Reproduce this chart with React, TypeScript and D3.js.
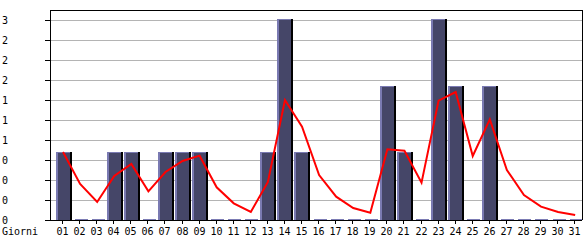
import React from "react";
import * as d3 from "d3";

const days = ["01","02","03","04","05","06","07","08","09","10","11","12","13","14","15","16","17","18","19","20","21","22","23","24","25","26","27","28","29","30","31"];
const counts = [1,0,0,1,1,0,1,1,1,0,0,0,1,3,1,0,0,0,0,2,1,0,3,2,0,2,0,0,0,0,0];
const trend = [1.02,0.54,0.27,0.66,0.84,0.43,0.72,0.885,0.965,0.49,0.25,0.12,0.57,1.8,1.4,0.675,0.35,0.18,0.11,1.06,1.04,0.56,1.79,1.92,0.96,1.51,0.75,0.375,0.2,0.12,0.075];
const tickValues = [0,0.3,0.6,0.9,1.2,1.5,1.8,2.1,2.4,2.7,3.0];
const tickLabels = ["0","0","0","0","1","1","1","2","2","2","3"];
const xTitle = "Giorni";

export default function App() {
  const W = 585, H = 240;
  const left = 50, right = 582, top = 10, bottom = 220;
  const x = d3.scaleBand<string>().domain(days).range([54.5, 583.7]).paddingInner(0);
  const y = d3.scaleLinear().domain([0, 3]).range([220, 20]);
  const line = d3.line<number>()
    .x((_, i) => (x(days[i]) as number) + x.bandwidth() / 2)
    .y((v) => y(v));
  const font = "'DejaVu Sans Mono', monospace";
  return (
    <svg width={W} height={H} style={{ position: "absolute", left: 0, top: 0, background: "#fff" }}>
      {tickValues.slice(1).map((t, i) => (
        <line key={"g" + i} x1={left} x2={right} y1={y(t)} y2={y(t)} stroke="#b4b4b4" strokeWidth={1} shapeRendering="crispEdges" />
      ))}
      {tickValues.map((t, i) => (
        <g key={"yt" + i}>
          <line x1={45} x2={left} y1={y(t)} y2={y(t)} stroke="#000" shapeRendering="crispEdges" />
          <text x={2} y={y(t) + 3.5} fontFamily={font} fontSize={10} fill="#000">{tickLabels[i]}</text>
        </g>
      ))}
      {counts.map((c, i) => {
        const bx = Math.round(x(days[i]) as number) + 0.5;
        const bw = 16;
        if (c === 0) {
          return <rect key={"b" + i} x={bx + 2} y={219} width={bw - 3} height={1} fill="#7c7cb4" shapeRendering="crispEdges" />;
        }
        const yt = Math.round(y(c)) - 1;
        const h = 220 - yt;
        return (
          <g key={"b" + i} shapeRendering="crispEdges">
            <rect x={bx} y={yt} width={bw} height={h} fill="#000" />
            <rect x={bx} y={yt} width={bw - 2} height={h} fill="#7a7ab2" />
            <rect x={bx + 2} y={yt + 1} width={bw - 4} height={h - 1} fill="#454668" />
          </g>
        );
      })}
      <path d={line(trend) as string} fill="none" stroke="#ff0000" strokeWidth={2} />
      <line x1={left} x2={left} y1={top} y2={bottom} stroke="#000" shapeRendering="crispEdges" />
      <line x1={left} x2={right} y1={top} y2={top} stroke="#000" shapeRendering="crispEdges" />
      <line x1={right} x2={right} y1={top} y2={bottom} stroke="#000" shapeRendering="crispEdges" />
      <line x1={left} x2={right} y1={bottom} y2={bottom} stroke="#000" shapeRendering="crispEdges" />
      {days.map((d) => {
        const cx = Math.round((x(d) as number) + x.bandwidth() / 2) - 0.5;
        return (
          <g key={"xt" + d}>
            <line x1={cx} x2={cx} y1={bottom} y2={bottom + 4} stroke="#000" shapeRendering="crispEdges" />
            <text x={cx} y={235} textAnchor="middle" fontFamily={font} fontSize={10} fill="#000">{d}</text>
          </g>
        );
      })}
      <text x={2} y={235} fontFamily={font} fontSize={10} fill="#000">{xTitle}</text>
    </svg>
  );
}
